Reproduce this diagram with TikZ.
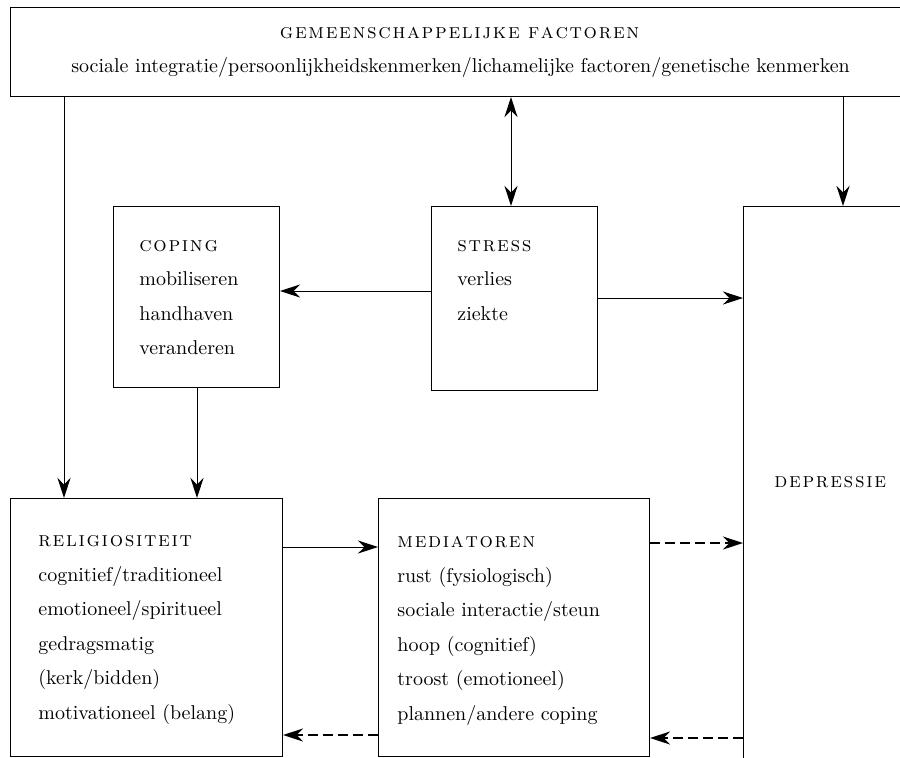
\documentclass[tikz,border=0pt]{standalone}
\usepackage{tikz}
\usetikzlibrary{arrows.meta}
\usetikzlibrary{positioning}

% spaced small caps
\makeatletter
\def\kop@#1{\ifx#1\relax\else#1\kern0.08em\expandafter\kop@\fi}
\newcommand{\kop}[1]{{\fontsize{10.5}{12}\selectfont\textsc{\kop@#1\relax}}}
\makeatother

\begin{document}
\begin{tikzpicture}[x=0.5pt, y=-0.5pt,
        vak/.style={draw, line width=0.5pt, inner sep=0pt, anchor=north west},
        tekst/.style={anchor=north west, inner sep=0pt, align=left, font=\fontsize{10}{17.25}\selectfont},
        pijl/.style={line width=0.5pt, -{Stealth[length=10pt,width=6.5pt]}},
        dubbel/.style={line width=0.5pt, {Stealth[length=10pt,width=6.5pt]}-{Stealth[length=10pt,width=6.5pt]}},
        stippel/.style={line width=1pt, dash pattern=on 5pt off 2.5pt, -{Stealth[length=10pt,width=6.5pt]}}]
    \useasboundingbox (0,0) rectangle (900,757);
    \clip (0,0) rectangle (900,757);

    % Boxes
    \node[vak, minimum width=450pt, minimum height=44.5pt, align=center,
          font=\fontsize{10}{17}\selectfont] (factoren) at (10,7)
        {\kop{gemeenschappelijke}\ \kop{factoren}\\
         sociale integratie/persoonlijkheidskenmerken/lichamelijke factoren/genetische kenmerken};
    \node[vak, minimum width=83pt, minimum height=90.5pt] (coping) at (113,206) {};
    \node[vak, minimum width=83pt, minimum height=92pt] (stress) at (431,206) {};
    \node[vak, minimum width=136pt, minimum height=129pt] (religie) at (10,498) {};
    \node[vak, minimum width=135.5pt, minimum height=129pt] (mediatoren) at (378,498) {};
    \node[vak, minimum width=110pt, minimum height=310pt] (depressie) at (743,206) {};

    % Labels
    \node[tekst] (copingtekst) at (139,240) {\kop{coping}\\mobiliseren\\handhaven\\veranderen};
    \node[tekst] (stresstekst) at (457,240) {\kop{stress}\\verlies\\ziekte};
    \node[tekst] (religietekst) at (38,535)
        {\kop{religiositeit}\\cognitief/traditioneel\\emotioneel/spiritueel\\gedragsmatig\\(kerk/bidden)\\motivationeel (belang)};
    \node[tekst] (mediatorentekst) at (397,536)
        {\kop{mediatoren}\\rust (fysiologisch)\\sociale interactie/steun\\hoop (cognitief)\\troost (emotioneel)\\plannen/andere coping};
    \node[tekst, anchor=west] (depressietekst) at (774,482) {\kop{depressie}};

    % Arrows
    \draw[pijl] (factoren.south -| 64,0) -- (religie.north -| 64,0);
    \draw[dubbel] (factoren.south -| 511,0) -- (stress.north -| 511,0);
    \draw[pijl] (factoren.south -| 843,0) -- (depressie.north -| 843,0);
    \draw[pijl] (stress.west |- 0,291) -- (coping.east |- 0,291);
    \draw[pijl] (stress.east |- 0,298) -- (depressie.west |- 0,298);
    \draw[pijl] (coping.south -| 197,0) -- (religie.north -| 197,0);
    \draw[pijl] (religie.east |- 0,547) -- (mediatoren.west |- 0,547);

    % Dashed arrows
    \draw[stippel] (mediatoren.east |- 0,543) -- (depressie.west |- 0,543);
    \draw[stippel] (depressie.west |- 0,738) -- (mediatoren.east |- 0,738);
    \draw[stippel] (mediatoren.west |- 0,735) -- (religie.east |- 0,735);
\end{tikzpicture}
\end{document}
